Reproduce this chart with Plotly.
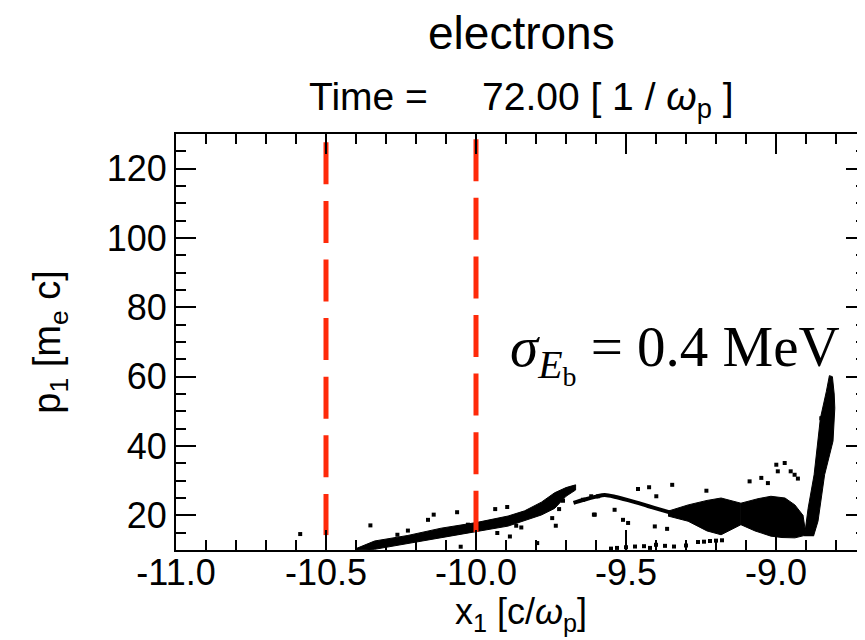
import plotly.graph_objects as go

# ---------------- data ----------------
x_ticks = [-11.0, -10.5, -10.0, -9.5, -9.0]
x_ticktext = ["-11.0", "-10.5", "-10.0", "-9.5", "-9.0"]
y_ticks = [20, 40, 60, 80, 100, 120]

# dashed red markers
cut1_x = [-10.5, -10.5]
cut1_y = [127.6, 14.3]
cut2_x = [-10.0, -10.0]
cut2_y = [128.5, 15.2]

# main rising band (outline: upper edge left->right, lower edge right->left)
band_x = [-10.40, -10.338, -10.227, -10.116, -10.0, -9.893, -9.838, -9.782, -9.738, -9.70, -9.668,
          -9.668, -9.70, -9.738, -9.782, -9.838, -9.893, -10.0, -10.116, -10.227, -10.338, -10.40]
band_y = [10.4, 12.6, 14.2, 16.3, 17.9, 19.8, 21.3, 23.8, 26.5, 28.0, 28.8,
          27.3, 25.5, 22.0, 20.1, 18.4, 16.9, 15.3, 13.5, 11.8, 10.2, 10.0]

# thin descending branch
branch_x = [-9.675, -9.64, -9.60, -9.571, -9.53, -9.47, -9.427, -9.38, -9.34]
branch_y = [23.6, 24.5, 25.4, 25.9, 25.2, 23.8, 22.7, 21.5, 20.5]

# first bunch
lens1_x = [-9.36, -9.293, -9.23, -9.183, -9.117, -9.117, -9.183, -9.23, -9.293, -9.36]
lens1_y = [21.2, 23.0, 24.3, 25.0, 23.5, 17.3, 14.4, 15.5, 18.3, 19.8]

# second bunch
lens2_x = [-9.117, -9.06, -9.017, -8.97, -8.937, -8.91, -8.90, -8.937, -8.98, -9.017, -9.07, -9.117]
lens2_y = [23.5, 24.8, 25.5, 25.0, 23.0, 20.0, 14.3, 13.5, 13.6, 14.0, 15.5, 17.3]

# high-energy spike
spike_x = [-8.905, -8.893, -8.873, -8.86, -8.852, -8.832, -8.822,
           -8.812, -8.806, -8.804, -8.81, -8.838, -8.86, -8.875]
spike_y = [14.0, 22.0, 31.7, 41.4, 48.0, 55.8, 60.3,
           60.0, 55.0, 50.9, 41.4, 31.7, 18.3, 14.0]

# isolated macro-particles
dots_x = [-10.586, -10.352, -10.262, -10.227, -10.16, -10.141, -10.063, -10.051, -10.027,
          -9.936, -9.896, -9.929, -9.887, -9.866, -9.849, -9.796, -9.746, -9.734, -9.723,
          -9.71, -9.607, -9.643, -9.616, -9.593,
          -9.46, -9.423, -9.346, -9.399, -9.232, -9.604, -9.538, -9.51, -9.493, -9.404,
          -9.363, -9.088, -9.049, -9.027, -8.999, -8.971, -8.994, -8.951, -8.938, -8.927,
          -8.849, -8.841,
          -9.55, -9.53, -9.50, -9.47, -9.44, -9.42, -9.40, -9.37, -9.34, -9.30,
          -9.26, -9.24, -9.22, -9.20, -9.18]
dots_y = [14.6, 17.1, 14.4, 15.6, 18.7, 20.2, 20.9, 10.95, 17.3,
          21.8, 22.4, 14.9, 13.9, 17.0, 16.5, 12.0, 19.2, 17.0, 21.8,
          24.2, 20.2, 24.5, 25.5, 25.5,
          27.6, 28.1, 28.8, 25.5, 27.1, 20.2, 21.6, 18.7, 17.8, 16.8,
          16.1, 29.8, 30.8, 29.3, 34.6, 35.1, 32.7, 32.7, 31.7, 30.6,
          48.0, 39.4,
          10.4, 10.6, 10.8, 11.0, 11.1, 10.6, 11.5, 11.2, 11.0, 11.3,
          12.3, 12.4, 12.6, 12.7, 12.8]

# ---------------- figure ----------------
FONT = "Liberation Sans"
RED = "#ff2a0a"

fig = go.Figure()

for xs, ys in [(band_x, band_y), (lens1_x, lens1_y), (lens2_x, lens2_y), (spike_x, spike_y)]:
    fig.add_trace(go.Scatter(x=xs, y=ys, mode="lines", fill="toself", fillcolor="black",
                             line=dict(color="black", width=1), hoverinfo="skip", showlegend=False))

fig.add_trace(go.Scatter(x=branch_x, y=branch_y, mode="lines",
                         line=dict(color="black", width=4, shape="spline"), showlegend=False))
fig.add_trace(go.Scatter(x=dots_x, y=dots_y, mode="markers",
                         marker=dict(symbol="square", size=4, color="black"), showlegend=False))

for xs, ys in [(cut1_x, cut1_y), (cut2_x, cut2_y)]:
    fig.add_trace(go.Scatter(x=xs, y=ys, mode="lines",
                             line=dict(color=RED, width=5, dash="42px,16.6px"), showlegend=False))

axis_common = dict(showline=True, linewidth=2, linecolor="black", mirror="allticks",
                   ticks="inside", ticklen=20, tickwidth=2, tickcolor="black",
                   showgrid=False, zeroline=False, automargin=False,
                   tickfont=dict(family=FONT, size=36, color="black"))

fig.update_layout(
    template="none",
    width=865, height=640,
    margin=dict(l=168, r=7, t=126, b=98, autoexpand=False),
    paper_bgcolor="white", plot_bgcolor="white",
    showlegend=False,
    xaxis=dict(range=[-11.0, -8.7], tickvals=x_ticks, ticktext=x_ticktext,
               minor=dict(dtick=0.1, tick0=-11.0, ticks="inside", ticklen=10, tickwidth=2,
                          tickcolor="black", showgrid=False),
               ticklabelstandoff=-10, **axis_common),
    yaxis=dict(range=[10, 130], tickvals=y_ticks,
               minor=dict(dtick=5, tick0=0, ticks="inside", ticklen=10, tickwidth=2,
                          tickcolor="black", showgrid=False),
               ticklabelstandoff=0, **axis_common),
    annotations=[
        dict(text="electrons", xref="paper", yref="paper", x=0.501, y=1.243,
             xanchor="center", yanchor="middle", showarrow=False,
             font=dict(family=FONT, size=46, color="black")),
        dict(text="Time =\u00a0\u00a0\u00a0\u00a0\u00a072.00 [ 1 / <i>ω</i><sub>p</sub> ]",
             xref="paper", yref="paper", x=0.5, y=1.084,
             xanchor="center", yanchor="middle", showarrow=False,
             font=dict(family=FONT, size=39, color="black")),
        dict(text="x<sub>1</sub> [c/<i>ω</i><sub>p</sub>]", xref="paper", yref="paper",
             x=0.5, y=-0.154, xanchor="center", yanchor="middle", showarrow=False,
             font=dict(family=FONT, size=36, color="black")),
        dict(text="p<sub>1</sub> [m<sub>e</sub> c]", xref="paper", yref="paper",
             x=-0.183, y=0.5, xanchor="center", yanchor="middle", textangle=-90,
             showarrow=False, font=dict(family=FONT, size=38, color="black")),
        dict(text="<i>σ</i><sub><i>E</i><sub>b</sub></sub> = 0.4 MeV", xref="x", yref="y",
             x=-8.78, y=66.8, xanchor="right", yanchor="middle", showarrow=False,
             font=dict(family="Liberation Serif", size=57, color="black")),
    ],
)

fig.write_html("out.html")
